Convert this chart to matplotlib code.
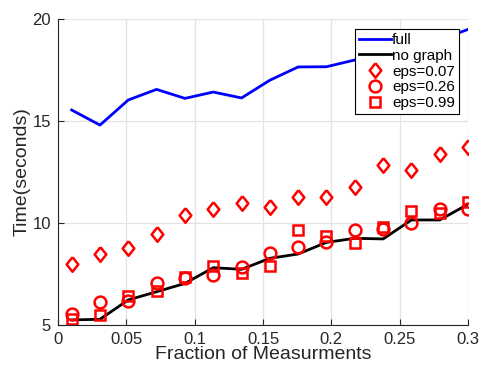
import matplotlib
matplotlib.use('Agg')
import matplotlib.pyplot as plt

# fraction of measurements
frac = [0.01, 0.0307, 0.0514, 0.0721, 0.0929, 0.1136, 0.1343, 0.155,
        0.1757, 0.1964, 0.2171, 0.2379, 0.2586, 0.2793, 0.3]

t_full = [15.54, 14.80, 16.03, 16.55, 16.11, 16.42, 16.13, 17.00,
          17.65, 17.66, 17.99, 18.25, 18.60, 18.98, 19.49]
t_nograph = [5.25, 5.28, 6.23, 6.63, 7.04, 7.81, 7.73, 8.27,
             8.48, 9.05, 9.25, 9.22, 10.15, 10.15, 10.92]
t_eps007 = [7.97, 8.48, 8.79, 9.46, 10.38, 10.67, 10.96, 10.80,
            11.29, 11.29, 11.78, 12.84, 12.60, 13.38, 13.74]
t_eps026 = [5.54, 6.14, 6.18, 7.08, 7.32, 7.45, 7.86, 8.55,
            8.81, 9.05, 9.66, 9.69, 10.02, 10.67, 10.69]
t_eps099 = [5.28, 5.49, 6.42, 6.67, 7.37, 7.91, 7.57, 7.91,
            9.66, 9.38, 9.04, 9.79, 10.61, 10.47, 11.05]

plt.rcParams['font.family'] = ['Liberation Sans', 'DejaVu Sans']

fig = plt.figure(figsize=(4.81, 3.67), dpi=100)
ax = fig.add_axes([0.1206, 0.1144, 0.8524, 0.8338])

diamond = [(0, 1), (0.8, 0), (0, -1), (-0.8, 0), (0, 1)]

ax.plot(frac, t_full, '-', color='b', lw=2, label='full')
ax.plot(frac, t_nograph, '-', color='k', lw=2, label='no graph')
ax.plot(frac, t_eps007, ls='none', marker=diamond, ms=10.5, mfc='none', mec='r', mew=1.8, label='eps=0.07')
ax.plot(frac, t_eps026, ls='none', marker='o', ms=8.5, mfc='none', mec='r', mew=1.8, label='eps=0.26')
ax.plot(frac, t_eps099, ls='none', marker='s', ms=6.5, mfc='none', mec='r', mew=1.8, label='eps=0.99')

ax.set_xlim(0, 0.3)
ax.set_ylim(5, 20)
ax.set_xticks([0, 0.05, 0.1, 0.15, 0.2, 0.25, 0.3])
ax.set_xticklabels(['0', '0.05', '0.1', '0.15', '0.2', '0.25', '0.3'])
ax.set_yticks([5, 10, 15, 20])
ax.grid(True, color='#e3e3e3', lw=0.9)
ax.set_axisbelow(True)
for s in ['top', 'right']:
    ax.spines[s].set_visible(False)
for s in ['left', 'bottom']:
    ax.spines[s].set_color('#262626')
    ax.spines[s].set_linewidth(0.8)
ax.tick_params(direction='in', length=4, width=0.8, colors='#262626', labelsize=12, pad=5)

ax.set_xlabel('Fraction of Measurments', fontsize=14, color='#262626', labelpad=-1)
ax.set_ylabel('Time(seconds)', fontsize=14, color='#262626', labelpad=1)

leg = ax.legend(loc='upper right', bbox_to_anchor=(0.977, 0.967), fontsize=11,
                fancybox=False, framealpha=1, edgecolor='k', handlelength=2.1,
                handletextpad=0.05, labelspacing=0.12, borderpad=0.25, borderaxespad=0)
leg.get_frame().set_linewidth(0.8)

fig.savefig('out.png', dpi=100)
